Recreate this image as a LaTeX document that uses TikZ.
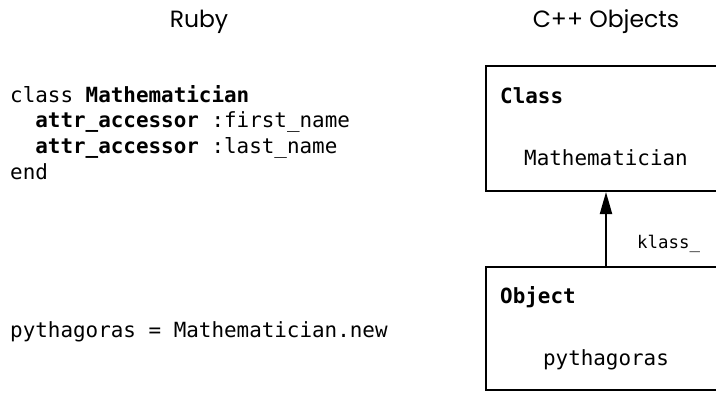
\documentclass[tikz,border=0pt]{standalone}
\usepackage{fontspec}
\setmonofont{DejaVu Sans Mono}
\newfontfamily\hdrfont{Poppins}
\usetikzlibrary{arrows.meta}
\tikzset{
  code/.style={font=\ttfamily\fontsize{20.9}{25}\selectfont, inner sep=0pt, anchor=base west},
  small/.style={font=\ttfamily\fontsize{17.4}{21}\selectfont, inner sep=0pt, anchor=base west},
  hdr/.style={font=\hdrfont\fontsize{23.5}{28}\selectfont, inner sep=0pt, anchor=base},
  box/.style={draw, line width=2pt, minimum width=240pt, inner sep=0pt},
  link/.style={line width=2pt, -{Triangle[length=22pt,width=12pt]}}
}
\begin{document}
\begin{tikzpicture}[x=1pt,y=-1pt]
\clip (0,0) rectangle (716,392);
\fill[white] (0,0) rectangle (716,392);
% headers
\node[hdr] (ruby) at (199,27) {Ruby};
\node[hdr] (cpp) at (606,27) {C++ Objects};
% ruby code
\node[code] (l1) at (10,102) {class \textbf{Mathematician}};
\node[code] (l2) at (10,127.7) {\hphantom{xx}\textbf{attr\_accessor} :first\_name};
\node[code] (l3) at (10,153.4) {\hphantom{xx}\textbf{attr\_accessor} :last\_name};
\node[code] (l4) at (10,179.1) {end};
\node[code] (l5) at (10,337) {pythagoras = Mathematician.new};
% boxes
\node[box, minimum height=125pt] (cls) at (606,128.5) {};
\node[box, minimum height=123pt] (obj) at (606,328.5) {};
\node[code] (clsT) at (500,103) {\textbf{Class}};
\node[code, anchor=base] (clsN) at (606,165) {Mathematician};
\node[code] (objT) at (500,303) {\textbf{Object}};
\node[code, anchor=base] (objN) at (606,365) {pythagoras};
% connector
\draw[link] (obj.north) -- (cls.south);
\node[small] (klass) at (637,248) {klass\_};
\end{tikzpicture}
\end{document}
